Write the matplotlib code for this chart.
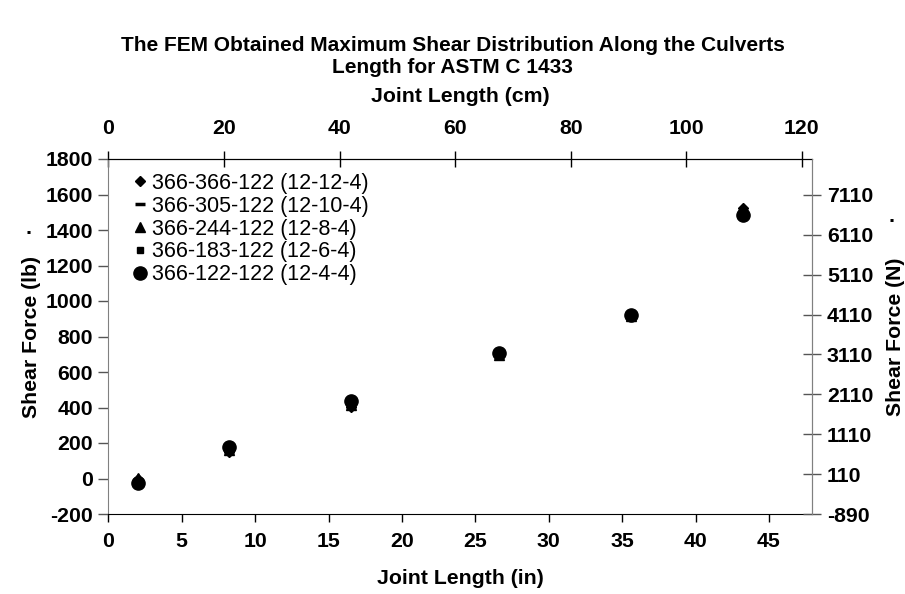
import matplotlib
matplotlib.use("Agg")
import matplotlib.pyplot as plt

plt.rcParams['font.family'] = ['Liberation Sans', 'DejaVu Sans']
plt.rcParams['axes.unicode_minus'] = False

# Joint length along the culvert (in) and FEM maximum shear (lb)
joint_in = [2.04, 8.2, 16.5, 26.6, 35.6, 43.2]

series_names = [
    "366-366-122 (12-12-4)",
    "366-305-122 (12-10-4)",
    "366-244-122 (12-8-4)",
    "366-183-122 (12-6-4)",
    "366-122-122 (12-4-4)",
]
shear_366_366 = [-5, 150, 405, 700, 920, 1525]
shear_366_305 = [-12, 155, 410, 690, 915, 1505]
shear_366_244 = [5, 160, 415, 695, 918, 1515]
shear_366_183 = [-15, 165, 420, 700, 920, 1500]
shear_366_122 = [-27, 180, 437, 705, 922, 1485]

x_ticks_in = [0, 5, 10, 15, 20, 25, 30, 35, 40, 45]
x_ticks_cm = [0, 20, 40, 60, 80, 100, 120]
y_ticks_lb = [-200, 0, 200, 400, 600, 800, 1000, 1200, 1400, 1600, 1800]
y_ticks_n = [-890, 110, 1110, 2110, 3110, 4110, 5110, 6110, 7110]

LB_TO_N = 4.45
IN_TO_CM = 2.54
FS = 15.3

fig = plt.figure(figsize=(9.05, 5.94), dpi=100)
ax = fig.add_axes([108.3 / 905, 1 - 514 / 594, 704 / 905, 355 / 594])

styles = [
    dict(marker="D", ms=5.5),
    dict(marker="_", ms=7, mew=2.5),
    dict(marker="^", ms=6.5),
    dict(marker="s", ms=4.5),
    dict(marker="o", ms=9.5),
]
all_series = [shear_366_366, shear_366_305, shear_366_244, shear_366_183, shear_366_122]
for name, vals, st in zip(series_names, all_series, styles):
    ax.plot(joint_in, vals, linestyle="none", color="black", mfc="black",
            mec="black", label=name, **st)

ax.set_xlim(0, 47.95)
ax.set_ylim(-200, 1800)
ax.set_xticks(x_ticks_in)
ax.set_yticks(y_ticks_lb)

for lbl in ax.get_xticklabels() + ax.get_yticklabels():
    lbl.set_fontsize(FS)
    lbl.set_fontweight("bold")

ax.tick_params(axis="x", direction="out", length=6, width=1, pad=7)
ax.tick_params(axis="y", direction="out", length=7, width=1, pad=4,
               color="#555555")
ax.spines["left"].set_color("#808080")
ax.spines["right"].set_color("#808080")
ax.spines["top"].set_color("black")
ax.spines["bottom"].set_color("black")

ax.set_xlabel("Joint Length (in)", fontsize=FS, fontweight="bold", labelpad=13)
ax.set_ylabel("Shear Force (lb)", fontsize=FS, fontweight="bold", labelpad=3)

# Top axis: joint length in centimetres
top = ax.secondary_xaxis("top", functions=(lambda v: v * IN_TO_CM,
                                           lambda v: v / IN_TO_CM))
top.set_xticks(x_ticks_cm)
top.tick_params(axis="x", direction="inout", length=12, width=1, pad=9)
for lbl in top.get_xticklabels():
    lbl.set_fontsize(FS)
    lbl.set_fontweight("bold")
top.set_xlabel("Joint Length (cm)", fontsize=FS, fontweight="bold", labelpad=12)

# Right axis: shear force in newtons
right = ax.twinx()
right.set_ylim(-200 * LB_TO_N, 1800 * LB_TO_N)
right.set_yticks(y_ticks_n)
right.set_yticklabels([str(v) for v in y_ticks_n])
right.tick_params(axis="y", direction="inout", length=13, width=1, pad=4,
                  color="#555555")
for lbl in right.get_yticklabels():
    lbl.set_fontsize(FS)
    lbl.set_fontweight("bold")
right.spines["right"].set_color("#808080")
right.spines["left"].set_visible(False)
right.spines["top"].set_visible(False)
right.spines["bottom"].set_visible(False)
right.set_ylabel("Shear Force (N)", fontsize=FS, fontweight="bold", labelpad=9)

leg = ax.legend(loc="upper left", bbox_to_anchor=(0.013, 1.01), frameon=False,
                fontsize=15.5, handlelength=0.5, handletextpad=0.3,
                labelspacing=0.09, borderpad=0.3)

fig.suptitle("The FEM Obtained Maximum Shear Distribution Along the Culverts\n"
             "Length for ASTM C 1433", fontsize=15, fontweight="bold",
             y=0.94)

fig.text(28 / 905, 1 - 228 / 594, ".", fontsize=FS, fontweight="bold",
         ha="center", va="center")
fig.text(891 / 905, 1 - 216 / 594, ".", fontsize=FS, fontweight="bold",
         ha="center", va="center")

fig.savefig("out.png", dpi=100)
